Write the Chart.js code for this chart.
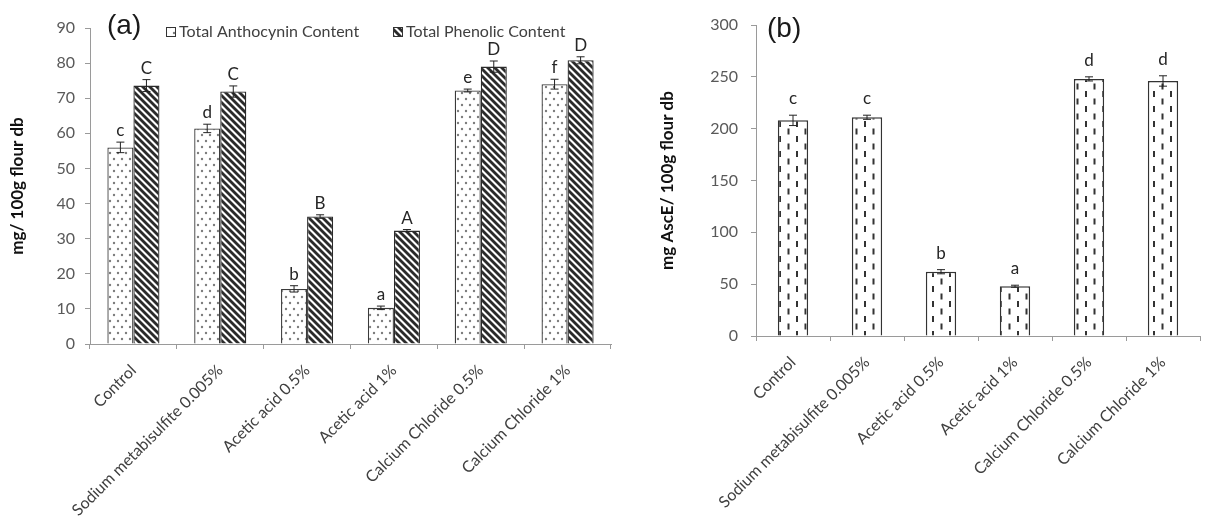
<!DOCTYPE html>
<html>
<head>
<meta charset="utf-8">
<script src="https://cdn.jsdelivr.net/npm/chart.js@4"></script>
<style>
  body { margin: 0; background: #fff; width: 1207px; height: 521px; overflow: hidden; position: relative; }
  #boxA { position: absolute; left: 0; top: 0; width: 620px; height: 521px; }
  #boxB { position: absolute; left: 640px; top: 0; width: 567px; height: 521px; }
</style>
</head>
<body>
<div id="boxA"><canvas id="chartA"></canvas></div>
<div id="boxB"><canvas id="chartB"></canvas></div>
<script>
// Chart data
const categories = ['Control', 'Sodium metabisulfite 0.005%', 'Acetic acid 0.5%', 'Acetic acid 1%', 'Calcium Chloride 0.5%', 'Calcium Chloride 1%'];

const anthocyaninValues = [56.0, 61.4, 15.7, 10.3, 72.2, 74.0];
const anthocyaninErrors = [1.5, 1.2, 0.9, 0.5, 0.4, 1.4];
const anthocyaninLetters = ['c', 'd', 'b', 'a', 'e', 'f'];

const phenolicValues = [73.6, 71.9, 36.3, 32.3, 79.0, 80.8];
const phenolicErrors = [1.7, 1.6, 0.5, 0.3, 1.6, 1.0];
const phenolicLetters = ['C', 'C', 'B', 'A', 'D', 'D'];

const ascValues = [208, 211, 62, 48, 248, 246];
const ascErrors = [5, 2, 2, 1, 2, 5];
const ascLetters = ['c', 'c', 'b', 'a', 'd', 'd'];

const FONT = 'Lato';

// Fill patterns
function dotPattern() {
    const c = document.createElement('canvas');
    c.width = 8; c.height = 12;
    const g = c.getContext('2d');
    g.fillStyle = '#fff';
    g.fillRect(0, 0, 8, 12);
    g.fillStyle = '#7c7c7c';
    [[2, 3], [6, 9]].forEach(p => {
        g.beginPath();
        g.arc(p[0], p[1], 1.2, 0, Math.PI * 2);
        g.fill();
    });
    return g.createPattern(c, 'repeat');
}

function hatchPattern() {
    const t = 7;
    const c = document.createElement('canvas');
    c.width = t; c.height = t;
    const g = c.getContext('2d');
    g.fillStyle = '#fff';
    g.fillRect(0, 0, t, t);
    g.strokeStyle = '#2b2b2b';
    g.lineWidth = 2.8;
    for (let k = -1; k <= 1; k++) {
        g.beginPath();
        g.moveTo(k * t - 1, -1);
        g.lineTo(k * t + t + 1, t + 1);
        g.stroke();
    }
    return g.createPattern(c, 'repeat');
}

function dashPattern() {
    const c = document.createElement('canvas');
    c.width = 17; c.height = 15;
    const g = c.getContext('2d');
    g.fillStyle = '#fff';
    g.fillRect(0, 0, 17, 15);
    g.fillStyle = '#333';
    g.fillRect(3, 1, 2, 6);
    g.fillRect(11.5, 8.5, 2, 6);
    return g.createPattern(c, 'repeat');
}

// error bars, letters and extra labels
const annotate = {
    id: 'annotate',
    afterDatasetsDraw(chart, args, opts) {
        const ctx = chart.ctx;
        const y = chart.scales.y;
        ctx.save();
        chart.data.datasets.forEach((ds, i) => {
            const meta = chart.getDatasetMeta(i);
            meta.data.forEach((bar, j) => {
                const v = ds.data[j];
                const e = ds.errors[j];
                const top = y.getPixelForValue(v + e);
                const bot = y.getPixelForValue(v - e);
                ctx.strokeStyle = '#222';
                ctx.lineWidth = 1;
                ctx.beginPath();
                ctx.moveTo(bar.x, top); ctx.lineTo(bar.x, bot);
                ctx.moveTo(bar.x - 4, top); ctx.lineTo(bar.x + 4, top);
                ctx.moveTo(bar.x - 4, bot); ctx.lineTo(bar.x + 4, bot);
                ctx.stroke();
                ctx.fillStyle = '#262626';
                ctx.font = '17px ' + FONT;
                ctx.textAlign = 'center';
                ctx.textBaseline = 'bottom';
                ctx.fillText(ds.letters[j], bar.x, top - opts.gap);
            });
        });
        // panel label
        ctx.fillStyle = '#1a1a1a';
        ctx.font = '28px "Liberation Sans"';
        ctx.textAlign = 'left';
        ctx.textBaseline = 'alphabetic';
        ctx.fillText(opts.panel[0], opts.panel[1], opts.panel[2]);
        // legend
        (opts.legend || []).forEach(item => {
            const ds = chart.data.datasets[item.index];
            ctx.fillStyle = ds.backgroundColor;
            ctx.fillRect(item.x, 27, 10, 10);
            ctx.strokeStyle = '#333';
            ctx.lineWidth = 1;
            ctx.strokeRect(item.x + 0.5, 27.5, 9, 9);
            ctx.fillStyle = '#404040';
            ctx.font = '16px ' + FONT;
            ctx.textBaseline = 'middle';
            ctx.fillText(ds.label, item.x + 13, 32);
        });
        ctx.restore();
    }
};

function makeScales(maxY, step, yWidth, xHeight, titleText, titlePad, labelPad) {
    return {
        x: {
            grid: { display: true, drawOnChartArea: false, drawTicks: true, tickLength: 5, color: '#9a9a9a', offset: true },
            border: { color: '#9a9a9a', width: 1 },
            ticks: {
                color: '#404040', font: { family: FONT, size: 16 },
                minRotation: 45, maxRotation: 45, autoSkip: false, padding: 12
            },
            afterFit: s => { s.height = xHeight; }
        },
        y: {
            min: 0, max: maxY,
            grid: { display: true, drawOnChartArea: false, drawTicks: true, tickLength: 5, color: '#9a9a9a' },
            border: { color: '#9a9a9a', width: 1 },
            ticks: { stepSize: step, color: '#595959', font: { family: FONT, size: 16 }, padding: labelPad },
            title: {
                display: true, text: titleText, color: '#111',
                font: { family: FONT, size: 17, weight: 'bold' },
                padding: { top: titlePad, bottom: 0 }
            },
            afterFit: s => { s.width = yWidth; }
        }
    };
}

new Chart(document.getElementById('chartA'), {
    type: 'bar',
    data: {
        labels: categories,
        datasets: [
            {
                label: 'Total Anthocynin Content',
                data: anthocyaninValues, errors: anthocyaninErrors, letters: anthocyaninLetters,
                backgroundColor: dotPattern(), borderColor: '#3a3a3a', borderWidth: 1.3,
                categoryPercentage: 0.6, barPercentage: 1.0
            },
            {
                label: 'Total Phenolic Content',
                data: phenolicValues, errors: phenolicErrors, letters: phenolicLetters,
                backgroundColor: hatchPattern(), borderColor: '#2b2b2b', borderWidth: 1.3,
                categoryPercentage: 0.6, barPercentage: 1.0
            }
        ]
    },
    options: {
        responsive: true, maintainAspectRatio: false, animation: false,
        layout: { padding: { top: 28, right: 9, left: 0, bottom: 0 } },
        plugins: {
            legend: { display: false }, tooltip: { enabled: false },
            annotate: {
                gap: 3,
                panel: ['(a)', 107, 34],
                legend: [{ index: 0, x: 166 }, { index: 1, x: 393 }]
            }
        },
        scales: makeScales(90, 10, 90, 177, 'mg/ 100g flour db', 7, 10)
    },
    plugins: [annotate]
});

new Chart(document.getElementById('chartB'), {
    type: 'bar',
    data: {
        labels: categories,
        datasets: [
            {
                label: 'Ascorbic acid equivalent',
                data: ascValues, errors: ascErrors, letters: ascLetters,
                backgroundColor: dashPattern(), borderColor: '#333', borderWidth: 1.5,
                categoryPercentage: 1.0, barPercentage: 0.41
            }
        ]
    },
    options: {
        responsive: true, maintainAspectRatio: false, animation: false,
        layout: { padding: { top: 25, right: 7, left: 0, bottom: 0 } },
        plugins: {
            legend: { display: false }, tooltip: { enabled: false },
            annotate: { gap: 8, panel: ['(b)', 127, 37] }
        },
        scales: makeScales(300, 50, 116, 185, 'mg AscE/ 100g flour db', 17, 13)
    },
    plugins: [annotate]
});
</script>
</body>
</html>
